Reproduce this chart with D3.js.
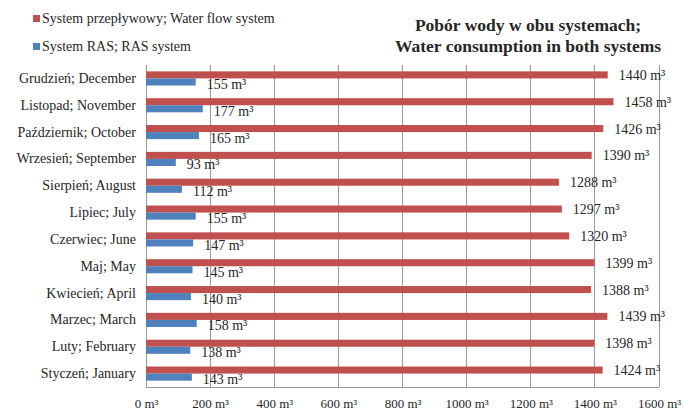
<!DOCTYPE html>
<html>
<head>
<meta charset="utf-8">
<script src="https://cdn.jsdelivr.net/npm/d3@7"></script>
<style>
  html, body { margin: 0; padding: 0; background: #fff; }
  svg { display: block; }
  text { font-family: "Liberation Serif", "Times New Roman", serif; fill: #262626; }
</style>
</head>
<body>
<svg id="chart" width="684" height="411"></svg>
<script>
// Data (bottom to top as drawn)
const categories = ["Styczeń; January", "Luty; February", "Marzec; March", "Kwiecień; April",
  "Maj; May", "Czerwiec; June", "Lipiec; July", "Sierpień; August",
  "Wrzesień; September", "Październik; October", "Listopad; November", "Grudzień; December"];
const flowValues = [1424, 1398, 1439, 1388, 1399, 1320, 1297, 1288, 1390, 1426, 1458, 1440];
const rasValues = [143, 138, 158, 140, 145, 147, 155, 112, 93, 165, 177, 155];
const seriesNames = ["System przepływowy; Water flow system", "System RAS; RAS system"];
const seriesColors = ["#C0504D", "#4F81BD"];
const xTicks = [0, 200, 400, 600, 800, 1000, 1200, 1400, 1600];
const titleLines = ["Pobór wody w obu systemach;", "Water consumption in both systems"];

const svg = d3.select("#chart");
const plot = { left: 146, right: 659, top: 65, bottom: 387 };

const x = d3.scaleLinear().domain([0, 1600]).range([plot.left, plot.right]);
const y = d3.scaleBand().domain(categories.slice().reverse()).range([plot.top, plot.bottom]).paddingInner(0).paddingOuter(0);
const sub = d3.scaleBand().domain(["flow", "ras"]).range([0, y.bandwidth()]).paddingInner(0).paddingOuter(0.9);

// Gridlines
svg.append("g").selectAll("line").data(xTicks).join("line")
  .attr("x1", d => x(d)).attr("x2", d => x(d))
  .attr("y1", plot.top).attr("y2", plot.bottom)
  .attr("stroke", "#9a9a9a").attr("stroke-width", 1)
  .attr("shape-rendering", "crispEdges");
// bottom border
svg.append("line").attr("x1", plot.left).attr("x2", plot.right)
  .attr("y1", plot.bottom).attr("y2", plot.bottom)
  .attr("stroke", "#9a9a9a").attr("shape-rendering", "crispEdges");

// X axis labels
const xAxis = d3.axisBottom(x).tickValues(xTicks).tickSize(0).tickPadding(0)
  .tickFormat(d => d + " m³");
const gx = svg.append("g").attr("transform", `translate(0,${plot.bottom + 12})`).call(xAxis);
gx.select(".domain").remove();
gx.selectAll("text").style("font-size", "13px").attr("fill", "#262626")
  .attr("font-family", "Liberation Serif");

// Y axis labels
const yAxis = d3.axisLeft(y).tickSize(0).tickPadding(10);
const gy = svg.append("g").attr("transform", `translate(${plot.left},0)`).call(yAxis);
gy.select(".domain").remove();
gy.selectAll("text").style("font-size", "14px").attr("fill", "#262626")
  .attr("font-family", "Liberation Serif");

// Bars
const rows = categories.map((c, i) => ({ c, flow: flowValues[i], ras: rasValues[i] }));
const g = svg.append("g");
g.selectAll("rect.flow").data(rows).join("rect").attr("class", "flow")
  .attr("x", x(0)).attr("y", d => y(d.c) + sub("flow"))
  .attr("width", d => x(d.flow) - x(0)).attr("height", sub.bandwidth())
  .attr("fill", seriesColors[0]);
g.selectAll("rect.ras").data(rows).join("rect").attr("class", "ras")
  .attr("x", x(0)).attr("y", d => y(d.c) + sub("ras"))
  .attr("width", d => x(d.ras) - x(0)).attr("height", sub.bandwidth())
  .attr("fill", seriesColors[1]);

// Value labels
g.selectAll("text.fl").data(rows).join("text").attr("class", "fl")
  .attr("x", d => x(d.flow) + 11)
  .attr("y", d => y(d.c) + sub("flow") + sub.bandwidth() / 2 + 5)
  .style("font-size", "14px").text(d => d.flow + " m³");
g.selectAll("text.rl").data(rows).join("text").attr("class", "rl")
  .attr("x", d => x(d.ras) + 11)
  .attr("y", d => y(d.c) + sub("ras") + sub.bandwidth() / 2 + 7)
  .style("font-size", "14px").text(d => d.ras + " m³");

// Legend
const legend = svg.append("g");
seriesNames.forEach((name, i) => {
  const ly = 15 + i * 28;
  legend.append("rect").attr("x", 33).attr("y", ly).attr("width", 7).attr("height", 7)
    .attr("fill", seriesColors[i]);
  legend.append("text").attr("x", 42).attr("y", ly + 8)
    .style("font-size", "14px").text(name);
});

// Title
const title = svg.append("text").attr("text-anchor", "middle")
  .style("font-size", "17.5px").style("font-weight", "bold");
titleLines.forEach((t, i) => {
  title.append("tspan").attr("x", 528).attr("y", 31 + i * 21).text(t);
});
</script>
</body>
</html>
